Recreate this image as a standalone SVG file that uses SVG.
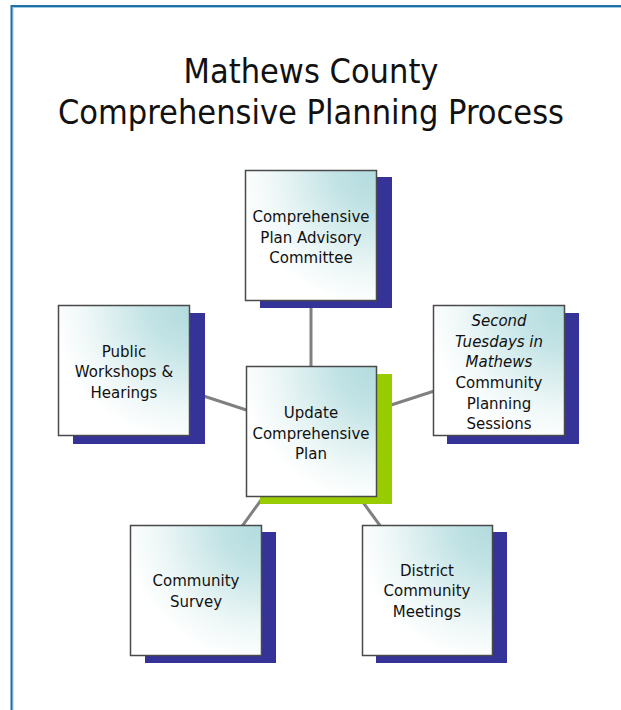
<svg xmlns="http://www.w3.org/2000/svg" width="621" height="710" viewBox="0 0 621 710">
<defs>
<radialGradient id="fill" cx="1" cy="0" r="1.05" fx="1" fy="0">
<stop offset="0" stop-color="#b2dbde"/>
<stop offset="0.3" stop-color="#c2e3e5"/>
<stop offset="0.75" stop-color="#eef7f7"/>
<stop offset="1" stop-color="#ffffff"/>
</radialGradient>
</defs>
<style>
.box{fill:url(#fill);stroke:#4a4a4a;stroke-width:1.5}
.sh{fill:#353398}
.shg{fill:#99cc00}
.t{font-family:"DejaVu Sans","Verdana",sans-serif;font-size:15px;fill:#111;text-anchor:middle}
.i{font-style:italic}
.title{font-family:"DejaVu Sans Condensed","DejaVu Sans",sans-serif;font-stretch:condensed;font-size:34px;fill:#111;text-anchor:middle}
.c{stroke:#808080;stroke-width:3;fill:none}
</style>
<rect width="621" height="710" fill="#ffffff"/>
<path d="M13,710 V7.5 H621" fill="none" stroke="#9cc8e4" stroke-width="1"/>
<path d="M11.5,710 V6 H621" fill="none" stroke="#1f6fa8" stroke-width="2"/>
<g id="title">
<text class="title" x="311" y="83">Mathews County</text>
<text class="title" x="311" y="124">Comprehensive Planning Process</text>
</g>
<g id="connectors">
<line class="c" x1="311" y1="236" x2="311" y2="431"/>
<line class="c" x1="124" y1="370" x2="311" y2="431"/>
<line class="c" x1="499" y1="370" x2="311" y2="431"/>
<line class="c" x1="196" y1="590" x2="311" y2="431"/>
<line class="c" x1="427" y1="590" x2="311" y2="431"/>
</g>
<g id="advisory">
<rect class="sh" x="260" y="177" width="132" height="131"/>
<rect class="box" x="245.5" y="170.5" width="131" height="130"/>
<text class="t" x="311" y="222">Comprehensive</text>
<text class="t" x="311" y="243">Plan Advisory</text>
<text class="t" x="311" y="263">Committee</text>
</g>
<g id="public">
<rect class="sh" x="73" y="313" width="132" height="131"/>
<rect class="box" x="58.5" y="305.5" width="131" height="130"/>
<text class="t" x="124" y="357">Public</text>
<text class="t" x="124" y="377">Workshops &amp;</text>
<text class="t" x="124" y="398">Hearings</text>
</g>
<g id="tuesdays">
<rect class="sh" x="447" y="313" width="132" height="131"/>
<rect class="box" x="433.5" y="305.5" width="131" height="130"/>
<text class="t i" x="499" y="326">Second</text>
<text class="t i" x="499" y="347">Tuesdays in</text>
<text class="t i" x="499" y="367">Mathews</text>
<text class="t" x="499" y="388">Community</text>
<text class="t" x="499" y="409">Planning</text>
<text class="t" x="499" y="429">Sessions</text>
</g>
<g id="update">
<rect class="shg" x="260" y="374" width="132" height="130"/>
<rect class="box" x="246.5" y="366.5" width="130" height="130"/>
<text class="t" x="311" y="418">Update</text>
<text class="t" x="311" y="439">Comprehensive</text>
<text class="t" x="311" y="459">Plan</text>
</g>
<g id="survey">
<rect class="sh" x="145" y="532" width="131" height="131"/>
<rect class="box" x="130.5" y="525.5" width="131" height="130"/>
<text class="t" x="196" y="586">Community</text>
<text class="t" x="196" y="607">Survey</text>
</g>
<g id="district">
<rect class="sh" x="376" y="532" width="131" height="131"/>
<rect class="box" x="362.5" y="525.5" width="130" height="130"/>
<text class="t" x="427" y="576">District</text>
<text class="t" x="427" y="596">Community</text>
<text class="t" x="427" y="617">Meetings</text>
</g>
</svg>
